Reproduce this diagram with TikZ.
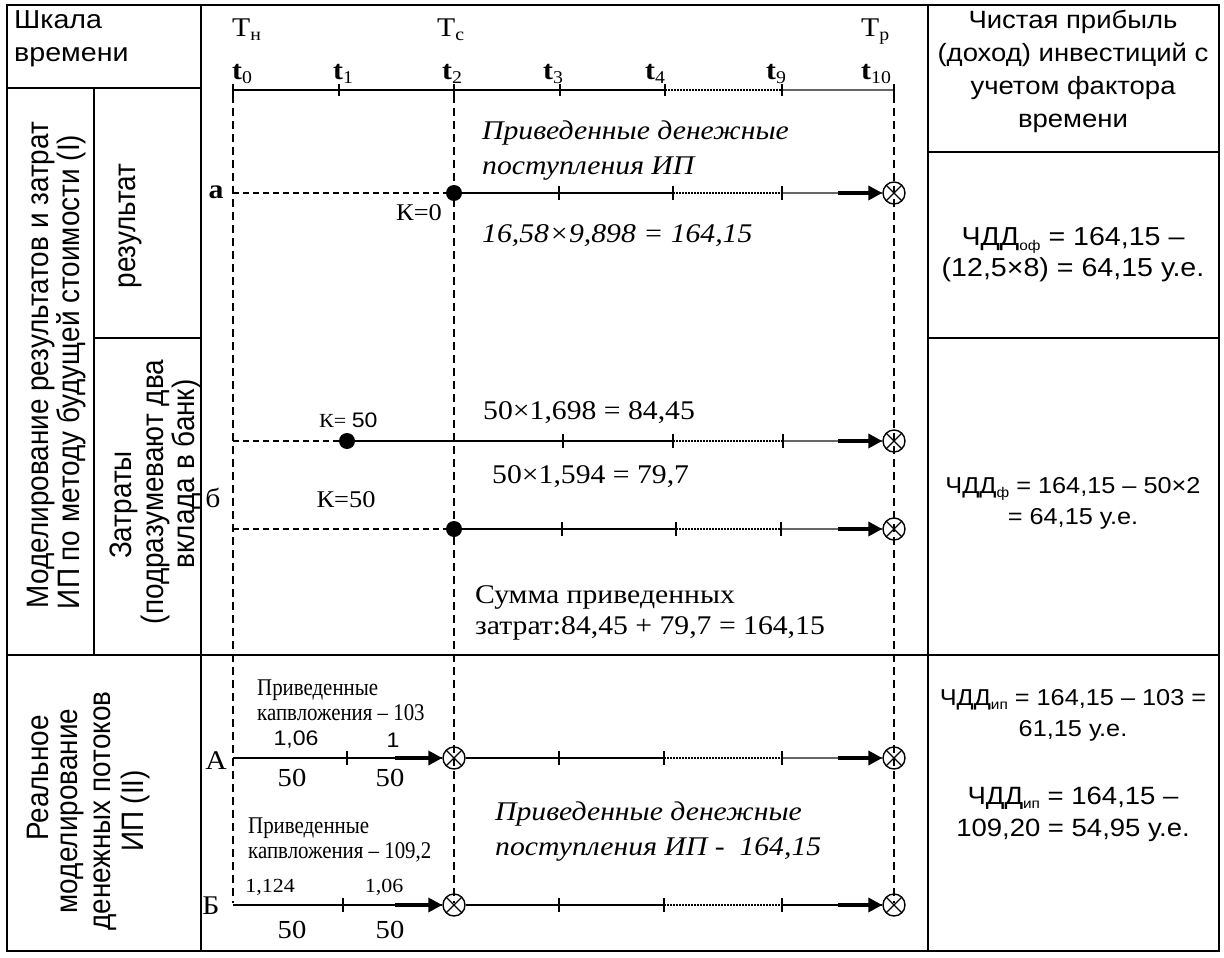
\documentclass[tikz,border=0pt]{standalone}
\usepackage{fontspec}
\setmainfont{Liberation Serif}
\setsansfont{Liberation Sans}
\newfontfamily\fsr[FakeStretch=1.1]{Liberation Serif}
\newfontfamily\fsrn[FakeStretch=0.87]{Liberation Serif}
\newfontfamily\fss[FakeStretch=1.1]{Liberation Sans}
\newfontfamily\frs[FakeStretch=0.9]{Liberation Sans}
\usetikzlibrary{arrows.meta}
\newcommand\lsub[1]{\raisebox{-0.12em}{\fontsize{18}{18}\selectfont\mdseries #1}}
\newcommand\csub[1]{\raisebox{-0.18em}{\fontsize{14}{14}\selectfont #1}}
\begin{document}
\begin{tikzpicture}[x=1pt,y=-1pt,
  frame/.style={line width=2pt},
  rule/.style={line width=1.3pt},
  vdash/.style={line width=1.4pt, dash pattern=on 8pt off 5pt},
  hdash/.style={line width=1.4pt, dash pattern=on 6pt off 4pt},
  flow/.style={line width=2.2pt},
  flowthick/.style={line width=2.8pt},
  dotseg/.style={line width=2pt, dash pattern=on 1.6pt off 1.4pt},
  lastseg/.style={line width=2pt, black!60},
  tk/.style={line width=1.4pt},
  arr/.style={line width=3.6pt, -{Triangle[length=14pt,width=14pt]}},
  xo/.style={circle, draw, line width=1.4pt, minimum size=22pt, inner sep=0pt,
     path picture={\draw[line width=1.3pt] (path picture bounding box.south west) -- (path picture bounding box.north east) (path picture bounding box.north west) -- (path picture bounding box.south east);}},
  dot/.style={circle, fill=black, minimum size=16pt, inner sep=0pt},
  ser/.style={font=\fsr\fontsize{27}{30}\selectfont, inner sep=0pt},
  sans/.style={align=center, inner sep=0pt},
  rot/.style={rotate=90, inner sep=0pt, font=\frs\fontsize{31}{34}\selectfont},
  ital/.style={font=\fsr\itshape\fontsize{27}{35}\selectfont, align=left, inner sep=0pt, anchor=west},
  small/.style={font=\fsrn\fontsize{24}{25}\selectfont, align=left, inner sep=0pt, anchor=west}
]
\useasboundingbox (0,0) rectangle (1224,958);
\fill[white] (0,0) rectangle (1224,958);

% ---------- table ----------
\draw[frame] (7,5) rectangle (1219,951);
\draw[rule] (201,5) -- (201,951);
\draw[rule] (928,5) -- (928,951);
\draw[frame] (94,88) -- (94,655);
\draw[rule] (7,88) -- (201,88);
\draw[rule] (94,338) -- (201,338);
\draw[rule] (7,655) -- (1219,655);
\draw[rule] (928,152) -- (1219,152);
\draw[rule] (928,338) -- (1219,338);

% ---------- left column ----------
\node[sans, align=left, anchor=west, font=\fss\fontsize{26}{33}\selectfont] (hdr) at (14,39) {Шкала\\времени};
\node[rot] (m1a) at (41,365) {Моделирование результатов и затрат};
\node[rot] (m1b) at (71,372) {ИП по методу будущей стоимости (I)};
\node[rot] (m2) at (130,226) {результат};
\node[rot] (m3a) at (124,505) {Затраты};
\node[rot] (m3b) at (155,492) {(подразумевают два};
\node[rot] (m3c) at (186,474) {вклада в банк)};
\node[rot] (m4a) at (38,778) {Реальное};
\node[rot] (m4b) at (72,811) {моделирование};
\node[rot] (m4c) at (105,811) {денежных потоков};
\node[rot] (m4d) at (135,811) {ИП (II)};

% ---------- right column ----------
\node[sans, font=\fss\fontsize{25}{33}\selectfont] (r0) at (1073,71) {Чистая прибыль\\(доход) инвестиций с\\учетом фактора\\времени};
\node[sans, font=\fss\fontsize{26}{31}\selectfont] (r1) at (1073,255) {ЧДД\csub{оф} = 164,15 –\\(12,5×8) = 64,15 у.е.};
\node[sans, font=\fss\fontsize{23}{31}\selectfont] (r2) at (1073,503) {ЧДД\csub{ф} = 164,15 – 50×2\\= 64,15 у.е.};
\node[sans, font=\fss\fontsize{23}{31}\selectfont] (r3) at (1073,715) {ЧДД\csub{ип} = 164,15 – 103 =\\61,15 у.е.};
\node[sans, font=\fss\fontsize{25}{32}\selectfont] (r4) at (1073,814) {ЧДД\csub{ип} = 164,15 –\\109,20 = 54,95 у.е.};

% ---------- time axis ----------
\foreach \n/\x in {0/233,1/339,2/454,3/560,4/665,9/782,10/894}
  \coordinate (t\n) at (\x,90);
\draw[flow] (t0) -- (t4);
\draw[dotseg] (t4) -- (t9);
\draw[lastseg] (t9) -- (t10);
\foreach \n in {0,1,2,3,4,9,10}
  \draw[tk] ([yshift=-6pt]t\n) -- ([yshift=6pt]t\n);
\foreach \n/\x in {0/232,1/333,2/442,3/543,4/645,9/766,10/861}
  \node[ser, anchor=base west, font=\fsr\bfseries\fontsize{27}{30}\selectfont] (lt\n) at (\x,80) {t\lsub{\n}};
\node[ser, anchor=base west] (Tn) at (232,37) {T\lsub{н}};
\node[ser, anchor=base west] (Tc) at (437,37) {T\lsub{с}};
\node[ser, anchor=base west] (Tp) at (861,37) {T\lsub{р}};

% vertical dashed guides
\draw[vdash] (233,95) -- (233,903);
\draw[vdash] (454,95) -- (454,903);
\draw[vdash] (894,95) -- (894,903);

% ---------- row a ----------
\node[dot] (da) at (454,193) {};
\node[xo] (xa) at (894,193) {};
\coordinate (sa) at (233,193);
\draw[hdash] (sa) -- (da);
\draw[flowthick] (da) -- (673,193);
\draw[dotseg] (673,193) -- (782,193);
\draw[lastseg] (782,193) -- (xa.west);
\draw[arr] (838,193) -- (xa.west);
\foreach \x in {559,673,782} \draw[tk] (\x,186) -- (\x,200);
\node[ser, font=\fsr\bfseries\fontsize{27}{30}\selectfont] (la) at (216,192) {а};
\node[ser, font=\fsr\fontsize{24}{28}\selectfont] (k0) at (419,213) {К=0};
\node[ital] (ia) at (482,151) {Приведенные денежные\\поступления ИП};
\node[ital] (fa) at (482,236) {16,58×9,898 = 164,15};

% ---------- row b1 ----------
\node[dot] (db1) at (347,441) {};
\node[xo] (xb1) at (894,441) {};
\coordinate (sb1) at (233,441);
\draw[hdash] (sb1) -- (db1);
\draw[flowthick] (db1) -- (673,441);
\draw[dotseg] (673,441) -- (783,441);
\draw[lastseg] (783,441) -- (xb1.west);
\draw[arr] (838,441) -- (xb1.west);
\foreach \x in {563,673,783} \draw[tk] (\x,434) -- (\x,448);
\node[anchor=west, inner sep=0pt] (kb1) at (319,420) {\fsr\fontsize{20}{22}\selectfont К= \fss\fontsize{21}{22}\selectfont 50};
\node[ser, anchor=west] (fb1) at (483,413) {50×1,698 = 84,45};

% ---------- row b2 ----------
\node[dot] (db2) at (454,529) {};
\node[xo] (xb2) at (894,529) {};
\coordinate (sb2) at (233,529);
\draw[hdash] (sb2) -- (db2);
\draw[flowthick] (db2) -- (676,529);
\draw[dotseg] (676,529) -- (781,529);
\draw[lastseg] (781,529) -- (xb2.west);
\draw[arr] (838,529) -- (xb2.west);
\foreach \x in {562,676,781} \draw[tk] (\x,522) -- (\x,536);
\node[ser] (lb) at (213,498) {б};
\node[ser, font=\fsr\fontsize{24}{28}\selectfont] (kb2) at (346,500) {К=50};
\node[ser, anchor=west] (fb2) at (492,477) {50×1,594 = 79,7};
\node[ser, anchor=west, align=left, font=\fsr\fontsize{27}{31}\selectfont] (sum) at (475,613) {Сумма приведенных\\затрат:84,45 + 79,7 = 164,15};

% ---------- row A ----------
\coordinate (sA) at (233,758);
\node[xo] (xA1) at (454,758) {};
\node[xo] (xA2) at (894,758) {};
\draw[flow] (sA) -- (xA1.west);
\draw[arr] (395,758) -- (xA1.west);
\draw[flow] (xA1.east) -- (664,758);
\draw[dotseg] (664,758) -- (782,758);
\draw[lastseg] (782,758) -- (xA2.west);
\draw[arr] (838,758) -- (xA2.west);
\foreach \x in {347,559,664,782} \draw[tk] (\x,751) -- (\x,765);
\node[ser] (lA) at (216,761) {А};
\node[small] (capA) at (257,700) {Приведенные\\капвложения – 103};
\node[font=\fss\fontsize{21}{22}\selectfont, inner sep=0pt] (cA1) at (296,740) {1,06};
\node[font=\fss\fontsize{21}{22}\selectfont, inner sep=0pt] (cA2) at (393,740) {1};
\node[ser, font=\fsr\fontsize{26}{28}\selectfont] (vA1) at (292,778) {50};
\node[ser, font=\fsr\fontsize{26}{28}\selectfont] (vA2) at (390,778) {50};

% ---------- row B ----------
\coordinate (sB) at (233,905);
\node[xo] (xB1) at (454,905) {};
\node[xo] (xB2) at (894,905) {};
\draw[flow] (sB) -- (xB1.west);
\draw[arr] (395,905) -- (xB1.west);
\draw[flow] (xB1.east) -- (664,905);
\draw[dotseg] (664,905) -- (782,905);
\draw[flow] (782,905) -- (xB2.west);
\draw[arr] (838,905) -- (xB2.west);
\foreach \x in {343,559,664,782} \draw[tk] (\x,898) -- (\x,912);
\node[ser] (lB) at (211,906) {Б};
\node[small] (capB) at (248,840) {Приведенные\\капвложения – 109,2};
\node[ser, font=\fsr\fontsize{20}{22}\selectfont] (cB1) at (270,887) {1,124};
\node[ser, font=\fsr\fontsize{20}{22}\selectfont] (cB2) at (384,887) {1,06};
\node[ser, font=\fsr\fontsize{26}{28}\selectfont] (vB1) at (292,930) {50};
\node[ser, font=\fsr\fontsize{26}{28}\selectfont] (vB2) at (390,930) {50};
\node[ital] (iB) at (495,832) {Приведенные денежные\\поступления ИП -\ \ 164,15};
\end{tikzpicture}
\end{document}
